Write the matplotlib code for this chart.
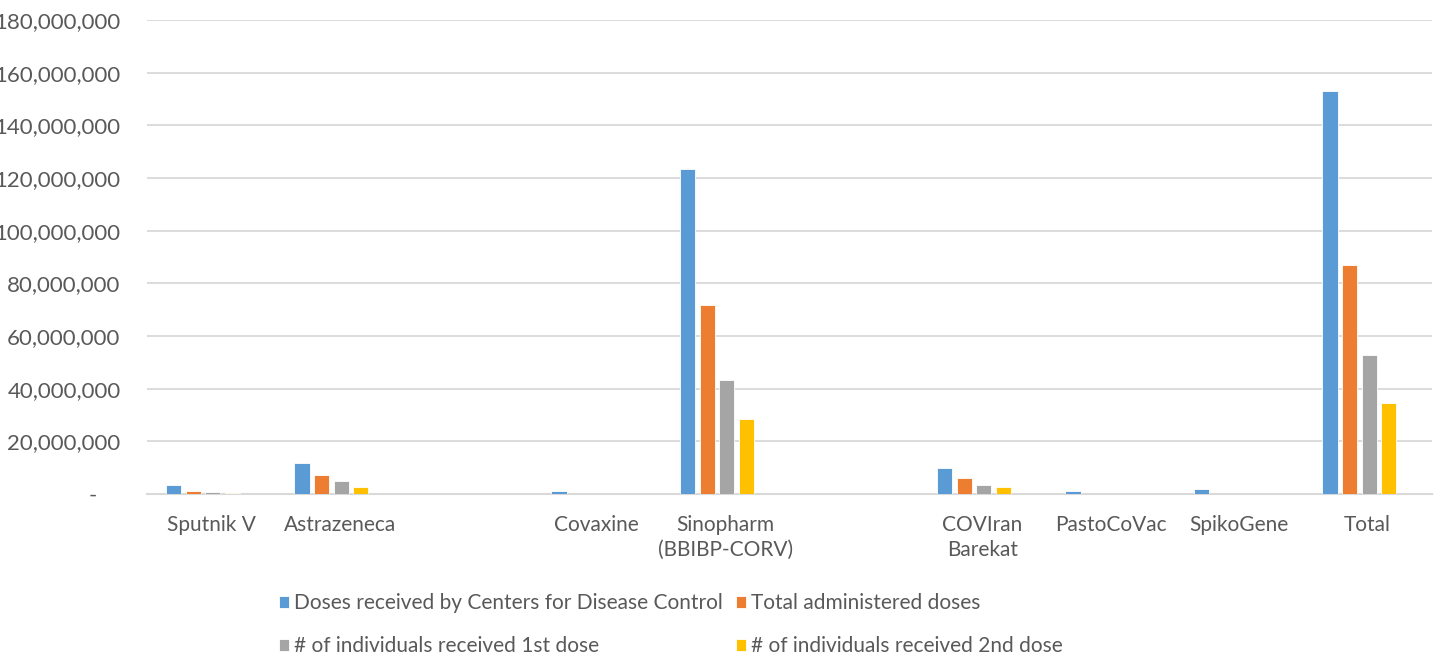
import matplotlib
matplotlib.use("Agg")
import matplotlib.pyplot as plt
import numpy as np
from matplotlib.ticker import FuncFormatter, MultipleLocator

categories = ["Sputnik V", "Astrazeneca", "", "Covaxine", "Sinopharm\n(BBIBP-CORV)", "",
              "COVIran\nBarekat", "PastoCoVac", "SpikoGene", "Total"]
series_names = ["Doses received by Centers for Disease Control", "Total administered doses",
                "# of individuals received 1st dose", "# of individuals received 2nd dose"]
doses_received = [3.4e6, 11.8e6, 0, 1.1e6, 123.4e6, 0, 10.0e6, 1.25e6, 1.9e6, 153.0e6]
total_administered = [1.1e6, 7.2e6, 0, 0.05e6, 71.9e6, 0, 6.1e6, 0.02e6, 0.02e6, 87.0e6]
first_dose = [0.6e6, 4.8e6, 0, 0.03e6, 43.4e6, 0, 3.3e6, 0.01e6, 0.01e6, 52.8e6]
second_dose = [0.2e6, 2.5e6, 0, 0.01e6, 28.5e6, 0, 2.7e6, 0.005e6, 0.005e6, 34.4e6]
colors = ["#5B9BD5", "#ED7D31", "#A5A5A5", "#FFC000"]

plt.rcParams['font.family'] = ['Lato', 'DejaVu Sans']
txt = "#595959"
fs = 15

fig = plt.figure(figsize=(14.42, 6.54), dpi=100)
ax = fig.add_axes([147/1442, 160/654, 1285/1442, 474/654])

x = np.arange(len(categories))
step = 0.1525
bw = 0.118
shift = -0.065
all_series = [doses_received, total_administered, first_dose, second_dose]
bars = []
for i, (vals, c) in enumerate(zip(all_series, colors)):
    b = ax.bar(x + (i - 1.5) * step + shift, vals, width=bw, color=c, zorder=3,
               edgecolor='white', linewidth=0.6)
    bars.append(b)

ax.set_xlim(-0.5, len(categories) - 0.5)
ax.set_ylim(0, 180e6)
ax.yaxis.set_major_locator(MultipleLocator(20e6))
ax.yaxis.set_major_formatter(FuncFormatter(lambda v, p: "-    " if v == 0 else f"{v:,.0f}"))
ax.grid(axis='y', color='#D9D9D9', linewidth=1.3, zorder=0)
ax.set_axisbelow(True)
for s in ['top', 'right', 'left']:
    ax.spines[s].set_visible(False)
ax.spines['bottom'].set_color('#D9D9D9')
ax.spines['bottom'].set_linewidth(1.5)
ax.set_xticks(x)
ax.set_xticklabels(categories, fontsize=fs, color=txt, linespacing=1.3)
ax.tick_params(axis='x', length=0, pad=15)
ax.tick_params(axis='y', length=0, pad=19, labelsize=fs + 1, labelcolor=txt)

order = [0, 2, 1, 3]
fig.legend([bars[i] for i in order], [series_names[i] for i in order], ncol=2,
           loc='center', bbox_to_anchor=(671/1442, 1 - 624.5/654), frameon=False,
           fontsize=fs, labelcolor=txt, handlelength=0.5, handleheight=0.5,
           handletextpad=0.25, columnspacing=0.6, labelspacing=1.1)

fig.savefig("out.png", dpi=100)
